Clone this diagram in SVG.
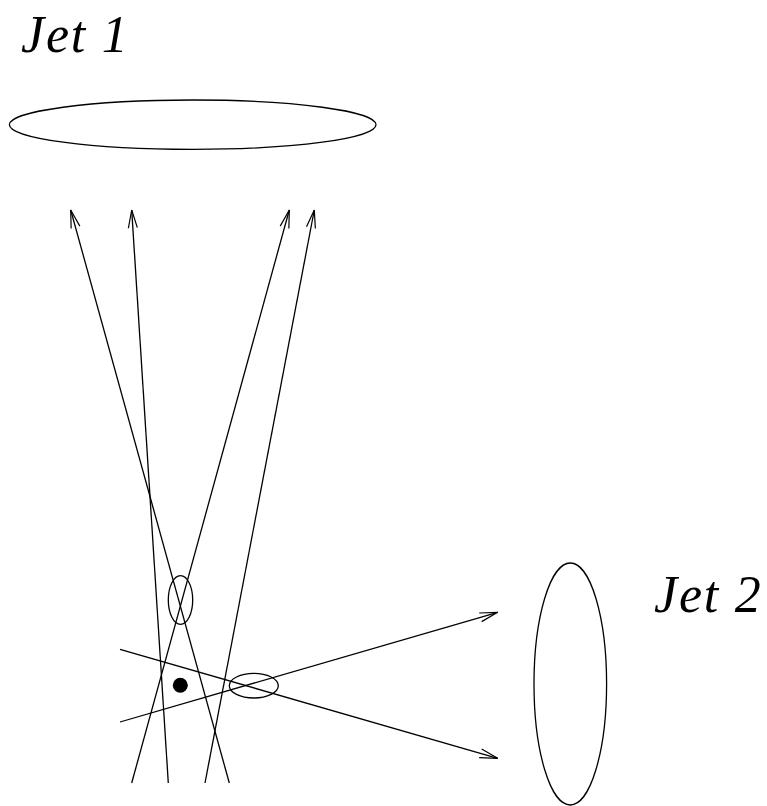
<svg xmlns="http://www.w3.org/2000/svg" width="767" height="806" viewBox="0 0 767 806">
<style>
.lbl{font-family:"Liberation Serif","Times New Roman",serif;font-style:italic;font-size:52px;letter-spacing:1.8px;fill:#000}
.ln{stroke:#000;stroke-width:1.3;fill:none}
.sh{stroke:#000;stroke-width:1.3;fill:none}
</style>
<defs>
<marker id="arr" markerUnits="userSpaceOnUse" markerWidth="24" markerHeight="14" viewBox="-20 -7 22 14" refX="0" refY="0" orient="auto">
<path d="M-18,-4.5 L0,0 L-18,4.5" fill="none" stroke="#000" stroke-width="1.2"/>
</marker>
</defs>
<rect width="767" height="806" fill="#fff"/>
<g id="jet1">
<ellipse class="sh" cx="192.7" cy="124.7" rx="183.3" ry="24.7"/>
<text class="lbl" x="21" y="52">Jet 1</text>
</g>
<g id="jet2">
<ellipse class="sh" cx="570.3" cy="684" rx="36.3" ry="121"/>
<text class="lbl" x="654" y="612">Jet 2</text>
</g>
<g id="vertex1">
<ellipse class="sh" cx="180.5" cy="600" rx="12.2" ry="24.3"/>
</g>
<g id="vertex2">
<ellipse class="sh" cx="253.8" cy="685.7" rx="24.5" ry="12.3"/>
</g>
<g id="primary">
<circle cx="180.3" cy="685.3" r="7.5" fill="#000"/>
</g>
<g id="connectors">
<line class="ln" x1="229.3" y1="783" x2="70.7" y2="210" marker-end="url(#arr)"/>
<line class="ln" x1="168.3" y1="783" x2="131.7" y2="210" marker-end="url(#arr)"/>
<line class="ln" x1="131.7" y1="783" x2="289.3" y2="210" marker-end="url(#arr)"/>
<line class="ln" x1="205" y1="783" x2="314.3" y2="210" marker-end="url(#arr)"/>
<line class="ln" x1="120" y1="649.3" x2="497.7" y2="758.3" marker-end="url(#arr)"/>
<line class="ln" x1="120" y1="722" x2="497.7" y2="612.3" marker-end="url(#arr)"/>
</g>
</svg>
